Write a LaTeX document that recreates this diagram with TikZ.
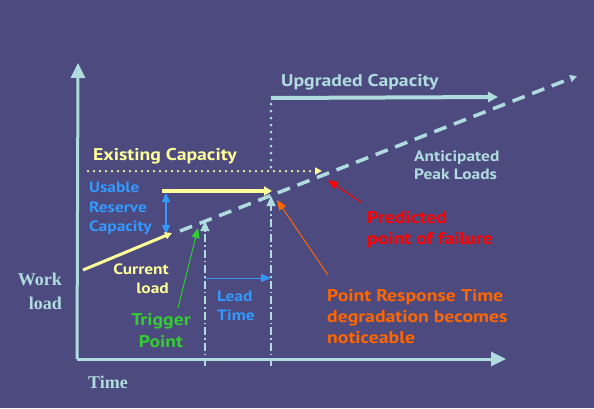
\documentclass[tikz,border=0pt]{standalone}
\usepackage{fontspec}
\setmainfont{PT Sans}[FakeStretch=1.16]
\newfontfamily\serifb{Liberation Serif}
\usetikzlibrary{arrows.meta}
\definecolor{bg}{RGB}{76,74,126}
\definecolor{lblue}{RGB}{176,220,224}
\definecolor{lyellow}{RGB}{255,255,153}
\definecolor{mblue}{RGB}{51,153,255}
\definecolor{fred}{RGB}{255,0,0}
\definecolor{forange}{RGB}{255,102,0}
\definecolor{fgreen}{RGB}{51,204,51}
\tikzset{
  lbl/.style={inner sep=0pt, font=\bfseries\fontsize{#1}{#1}\selectfont},
  axisline/.style={draw=lblue, line width=3pt, -{Triangle[length=15pt,width=14pt]}},
  thinarrow/.style={line width=1pt, -{Triangle[length=10pt,width=8pt]}},
  dashdotline/.style={draw=lblue, line width=1.1pt, dash pattern=on 8pt off 3pt on 1.5pt off 3pt, -{Triangle[length=10pt,width=9pt]}},
}
\begin{document}
\begin{tikzpicture}[x=1pt,y=-1pt]
\fill[bg] (0,0) rectangle (594,408);
\useasboundingbox (0,0) rectangle (594,408);

% coordinates
\coordinate (O) at (77,359);
\coordinate (Ytop) at (78,63);
\coordinate (Xend) at (506,359);
\coordinate (peakA) at (180,231);
\coordinate (peakB) at (577,76);
\coordinate (curA) at (83,270);
\coordinate (curB) at (172,233);
\coordinate (exA) at (88,171);
\coordinate (exB) at (322,171);
\coordinate (resA) at (162,191);
\coordinate (resB) at (272,191);
\coordinate (usA) at (166,193);
\coordinate (usB) at (166,234);
\coordinate (upLow) at (271,167);
\coordinate (upTop) at (271,98);
\coordinate (upEnd) at (498,97);
\coordinate (trgLow) at (205,366);
\coordinate (trgTop) at (205,221);
\coordinate (degLow) at (271,366);
\coordinate (degTop) at (271,196);
\coordinate (leadA) at (205,278);
\coordinate (leadB) at (271,278);
\coordinate (greenA) at (178,308);
\coordinate (greenB) at (198,228);
\coordinate (redA) at (362,203);
\coordinate (redB) at (328,180);
\coordinate (orA) at (328,275);
\coordinate (orB) at (277,200);

% axes
\draw[axisline] (O) -- (Ytop);
\draw[axisline] (O) -- (Xend);

% anticipated peak loads
\draw[lblue, line width=3.5pt, dash pattern=on 13pt off 8pt, -{Triangle[length=7pt,width=7pt]}] (peakA) -- (peakB);

% existing capacity
\draw[lyellow, line width=2.5pt, dash pattern=on 0pt off 6pt, line cap=round, -{Triangle[length=7pt,width=7pt]}] (exA) -- (exB);

% upgraded capacity
\draw[lblue, line width=3pt, dash pattern=on 0pt off 7pt, line cap=round] (upLow) -- (upTop);
\draw[lblue, line width=4pt, -{Triangle[length=10pt,width=10pt]}] (upTop) -- (upEnd);

% reserve
\draw[lyellow, line width=4pt, -{Triangle[length=8pt,width=9pt]}] (resA) -- (resB);
\draw[mblue, line width=1.5pt, {Triangle[length=9pt,width=8pt]}-{Triangle[length=9pt,width=8pt]}] (usA) -- (usB);

% current load
\draw[lyellow, line width=3pt, -{Triangle[length=7pt,width=7pt]}] (curA) -- (curB);

% vertical dash-dot lines
\draw[dashdotline] (trgLow) -- (trgTop);
\draw[dashdotline] (degLow) -- (degTop);

% lead time
\draw[mblue, thinarrow] (leadA) -- (leadB);

% pointer arrows
\draw[fgreen, thinarrow] (greenA) -- (greenB);
\draw[fred, thinarrow] (redA) -- (redB);
\draw[forange, thinarrow] (orA) -- (orB);

% labels
\node[lbl=17, text=lyellow, anchor=base west] (exist) at (93,160) {Existing Capacity};
\node[lbl=17, text=lblue, anchor=base west] (upg) at (281,86) {Upgraded Capacity};

\node[lbl=15, text=mblue, anchor=base west] (us1) at (89,192) {Usable};
\node[lbl=15, text=mblue, anchor=base west] (us2) at (89,212) {Reserve};
\node[lbl=15, text=mblue, anchor=base west] (us3) at (89,231) {Capacity};

\node[lbl=15, text=lblue, anchor=base west] (ant1) at (414,161) {Anticipated};
\node[lbl=15, text=lblue, anchor=base west] (ant2) at (414,179) {Peak Loads};

\node[lbl=17, text=fred, anchor=base west] (pr1) at (367,223) {Predicted};
\node[lbl=17, text=fred, anchor=base west] (pr2) at (367,244) {point of failure};

\node[lbl=17, text=forange, anchor=base west] (pt1) at (327,301) {Point Response Time};
\node[lbl=17, text=forange, anchor=base west] (pt2) at (327,322) {degradation becomes};
\node[lbl=17, text=forange, anchor=base west] (pt3) at (327,343) {noticeable};

\node[lbl=15, text=mblue, anchor=base west] (ld1) at (217,301) {Lead};
\node[lbl=15, text=mblue, anchor=base west] (ld2) at (217,320) {Time};

\node[lbl=15, text=lyellow, anchor=base east] (cu1) at (169,274) {Current};
\node[lbl=15, text=lyellow, anchor=base east] (cu2) at (169,293) {load};

\node[lbl=17, text=fgreen, anchor=base] (tr1) at (161,325) {Trigger};
\node[lbl=17, text=fgreen, anchor=base] (tr2) at (161,347) {Point};

\node[inner sep=0pt, text=lblue, font=\serifb\bfseries\fontsize{18}{18}\selectfont, anchor=base east] (wk1) at (62,285) {Work};
\node[inner sep=0pt, text=lblue, font=\serifb\bfseries\fontsize{18}{18}\selectfont, anchor=base east] (wk2) at (62,309) {load};
\node[inner sep=0pt, text=lblue, font=\serifb\bfseries\fontsize{18}{18}\selectfont, anchor=base west] (tm) at (88,388) {Time};
\end{tikzpicture}
\end{document}
